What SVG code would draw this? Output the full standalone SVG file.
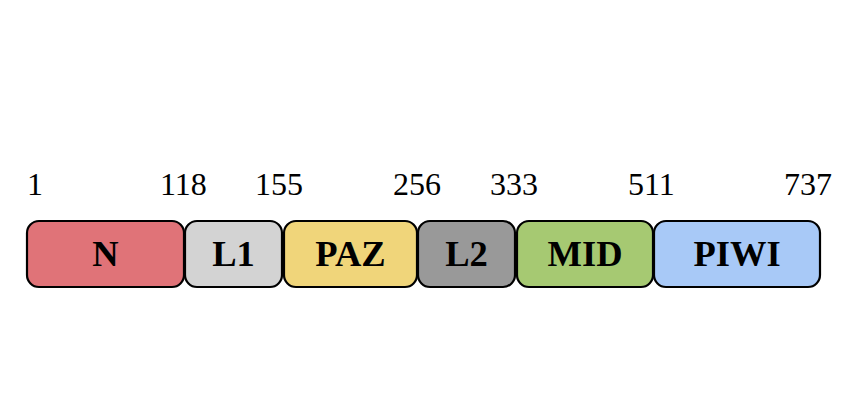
<svg xmlns="http://www.w3.org/2000/svg" width="856" height="401" viewBox="0 0 856 401">
<style>
.box{stroke:#000;stroke-width:2.2}
.lbl{font-family:"Liberation Serif","Times New Roman",serif;font-weight:bold;font-size:36.5px;text-anchor:middle;fill:#000}
.num{font-family:"Liberation Serif","Times New Roman",serif;font-size:32px;fill:#000}
</style>
<rect width="856" height="401" fill="#fff"/>
<g id="numbers">
<text class="num" x="27" y="195">1</text>
<text class="num" x="160" y="195">118</text>
<text class="num" x="255" y="195">155</text>
<text class="num" x="393" y="195">256</text>
<text class="num" x="490" y="195">333</text>
<text class="num" x="628" y="195">511</text>
<text class="num" x="784" y="195">737</text>
</g>
<g id="N"><rect class="box" x="27" y="221" width="157" height="66" rx="12" fill="#E07378"/><text class="lbl" x="105.5" y="266">N</text></g>
<g id="L1"><rect class="box" x="185" y="221" width="97" height="66" rx="12" fill="#D3D3D3"/><text class="lbl" x="233.5" y="266">L1</text></g>
<g id="PAZ"><rect class="box" x="284" y="221" width="133" height="66" rx="12" fill="#F0D57A"/><text class="lbl" x="350.5" y="266">PAZ</text></g>
<g id="L2"><rect class="box" x="418" y="221" width="97" height="66" rx="12" fill="#999999"/><text class="lbl" x="466.5" y="266">L2</text></g>
<g id="MID"><rect class="box" x="517" y="221" width="136" height="66" rx="12" fill="#A6C972"/><text class="lbl" x="585" y="266">MID</text></g>
<g id="PIWI"><rect class="box" x="654" y="221" width="166" height="66" rx="12" fill="#A8C9F7"/><text class="lbl" x="737" y="266">PIWI</text></g>
<g id="connectors"></g>
</svg>
